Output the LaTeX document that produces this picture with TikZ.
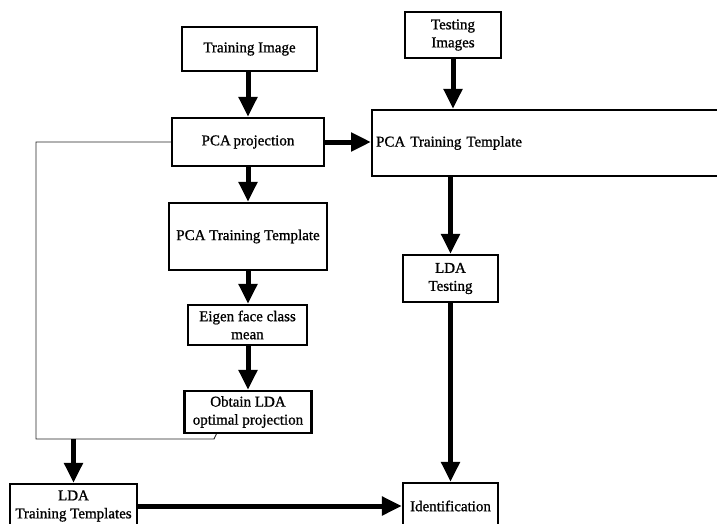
\documentclass[tikz,border=0pt]{standalone}
\usepackage{fontspec}
\setmainfont{Liberation Serif}[FakeBold=1]
\usetikzlibrary{arrows.meta}
\tikzset{
    flowarrow/.style={line width=5pt, -{Triangle[length=20pt,width=18pt]}}, % thick arrows of the flow
    }

\begin{document}
\begin{tikzpicture}[x=1pt,y=-1pt,
blocknode/.style={rectangle, draw=black, line width=2.2pt, align=center, inner sep=2pt, font=\fontsize{15}{18}\selectfont},
]
\useasboundingbox (0,0) rectangle (717,524);
\clip (0,0) rectangle (717,524);

\node[blocknode, minimum width=135pt, minimum height=44pt] (trainimg) at (249.5,49) {Training Image};
\node[blocknode, minimum width=96pt, minimum height=46pt] (testimg) at (453,35) {Testing\\Images};
\node[blocknode, minimum width=152pt, minimum height=48pt] (pcaproj) at (248,142) {PCA\hspace{-1pt} projection};
\node[blocknode, anchor=west, text width=360pt, align=left, inner xsep=4pt, minimum height=66pt] (pcatempR) at (371,143) {PCA Training Template};
\node[blocknode, minimum width=158pt, minimum height=67pt] (pcatempM) at (248,236.5) {PCA Training Template};
\node[blocknode, minimum width=119pt, minimum height=40pt] (eigen) at (247.5,325) {Eigen face class\\mean};
\node[blocknode, minimum width=127pt, minimum height=42pt] (obtain) at (248,412) {Obtain LDA\\optimal projection};
\node[blocknode, minimum width=95pt, minimum height=47pt] (ldatest) at (450.5,278.5) {LDA\\Testing};
\node[blocknode, minimum width=127pt, minimum height=44pt] (ldatrain) at (73.5,506) {LDA\\Training Templates};
\node[blocknode, minimum width=95pt, minimum height=46pt] (ident) at (450.5,506) {Identification};

\coordinate (loopcorner) at (36,439);
\coordinate (loopend) at (214,439);

\draw[flowarrow] (trainimg.south -| pcaproj.north) -- (pcaproj.north);
\draw[flowarrow] (testimg.south) -- (testimg.south |- pcatempR.north);
\draw[flowarrow] (pcaproj.east) -- (pcatempR.west |- pcaproj.east);
\draw[flowarrow] (pcaproj.south) -- (pcatempM.north);
\draw[flowarrow] (pcatempM.south) -- (pcatempM.south |- eigen.north);
\draw[flowarrow] (eigen.south -| obtain.north) -- (obtain.north);
\draw[flowarrow] (ldatest.north |- pcatempR.south) -- (ldatest.north);
\draw[flowarrow] (ldatest.south) -- (ident.north);
\draw[line width=0.9pt, black!85] (pcaproj.west) -- (pcaproj.west -| loopcorner) -- (loopcorner) -- (loopend) -- ([xshift=33pt]obtain.south west);
\draw[flowarrow] (loopcorner -| ldatrain.north) -- (ldatrain.north);
\draw[flowarrow] (ldatrain.east) -- (ident.west);
\end{tikzpicture}
\end{document}
